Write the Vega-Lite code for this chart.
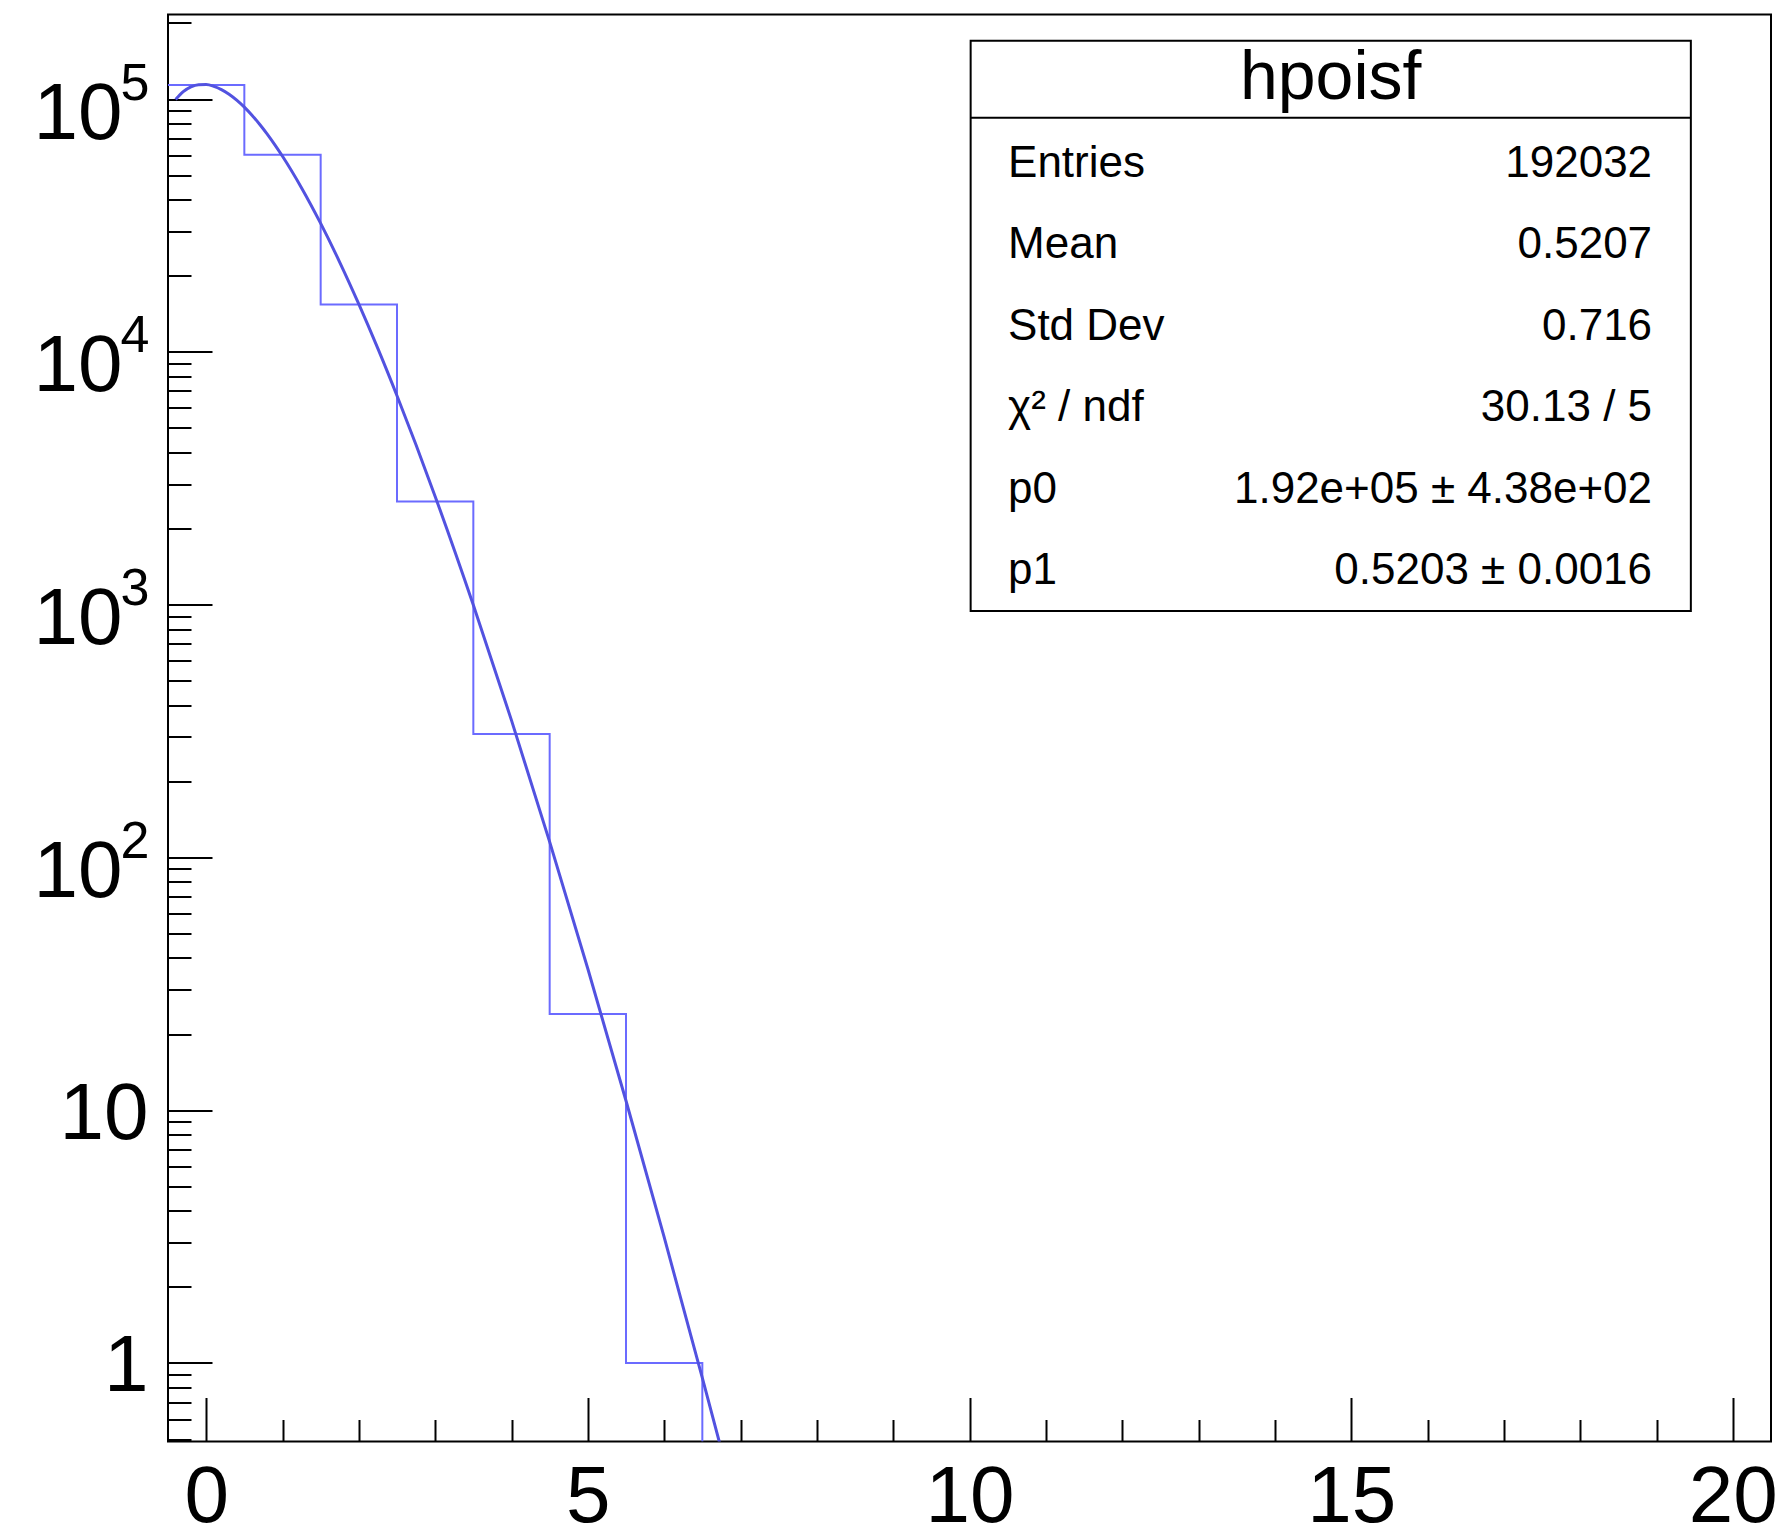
{
  "$schema": "https://vega.github.io/schema/vega-lite/v6.json",
  "width": 1603,
  "height": 1427,
  "autosize": "none",
  "padding": {"left": 168, "top": 14.5, "right": 13, "bottom": 91.5},
  "background": "white",
  "config": {
    "font": "Liberation Sans",
    "view": {"stroke": "black", "strokeWidth": 2},
    "axis": {"grid": false, "domain": false, "title": null, "tickColor": "black", "tickWidth": 2, "labelColor": "black", "labelFont": "Liberation Sans", "labelFlush": false, "labelOverlap": false}
  },
  "resolve": {"scale": {"y": "independent"}, "axis": {"x": "independent", "y": "independent"}},
  "layer": [
    {
      "data": {"values": [
        {"edge": -0.5, "count": 113589},
        {"edge": 0.5, "count": 60150},
        {"edge": 1.5, "count": 15400},
        {"edge": 2.5, "count": 2560},
        {"edge": 3.5, "count": 308},
        {"edge": 4.5, "count": 24},
        {"edge": 5.5, "count": 1},
        {"edge": 6.5, "count": 0}
      ]},
      "mark": {"type": "line", "interpolate": "step-after", "color": "#6b6bff", "strokeWidth": 2, "clip": true},
      "encoding": {
        "x": {"field": "edge", "type": "quantitative",
          "scale": {"domain": [-0.5, 20.5], "nice": false, "zero": false},
          "axis": {"orient": "bottom", "values": [0, 1, 2, 3, 4, 5, 6, 7, 8, 9, 10, 11, 12, 13, 14, 15, 16, 17, 18, 19, 20],
            "tickSize": {"condition": {"test": "datum.value % 5 == 0", "value": -44}, "value": -22},
            "labelExpr": "datum.value % 5 == 0 ? format(datum.value, 'd') : ''",
            "labelFontSize": 80, "labelPadding": 61}},
        "y": {"field": "count", "type": "quantitative",
          "scale": {"type": "log", "domain": [0.489, 216000], "nice": false, "clamp": true},
          "axis": {"orient": "left",
            "values": [0.5, 0.6, 0.7, 0.8, 0.9, 1, 2, 3, 4, 5, 6, 7, 8, 9, 10, 20, 30, 40, 50, 60, 70, 80, 90, 100, 200, 300, 400, 500, 600, 700, 800, 900, 1000, 2000, 3000, 4000, 5000, 6000, 7000, 8000, 9000, 10000, 20000, 30000, 40000, 50000, 60000, 70000, 80000, 90000, 100000, 200000],
            "tickSize": {"condition": {"test": "indexof([1, 10, 100, 1000, 10000, 100000], datum.value) >= 0", "value": -44}, "value": -23},
            "labelExpr": "datum.value == 1 ? '1' : indexof([10, 100, 1000, 10000, 100000], datum.value) >= 0 ? '10' : ''",
            "labelFontSize": 80, "labelAlign": "right", "labelBaseline": "alphabetic",
            "labelPadding": {"condition": {"test": "datum.value >= 100", "value": 90}, "value": 64},
            "labelOffset": {"condition": {"test": "datum.value >= 100", "value": 39}, "value": 28}}}
      }
    },
    {
      "data": {"values": [
        {"x": -0.4, "f": 99500}, {"x": -0.3, "f": 106900}, {"x": -0.2, "f": 111700}, {"x": -0.1, "f": 114000},
        {"x": 0, "f": 114100}, {"x": 0.1, "f": 112300}, {"x": 0.2, "f": 109000}, {"x": 0.3, "f": 104500},
        {"x": 0.4, "f": 99000}, {"x": 0.5, "f": 92870}, {"x": 0.6, "f": 86280}, {"x": 0.7, "f": 79480},
        {"x": 0.8, "f": 72640}, {"x": 0.9, "f": 65890}, {"x": 1.0, "f": 59370}, {"x": 1.25, "f": 44500},
        {"x": 1.5, "f": 32210}, {"x": 1.75, "f": 22610}, {"x": 2.0, "f": 15440}, {"x": 2.25, "f": 10290},
        {"x": 2.5, "f": 6703}, {"x": 2.75, "f": 4279}, {"x": 3.0, "f": 2679}, {"x": 3.5, "f": 996.6},
        {"x": 4.0, "f": 348.4}, {"x": 4.5, "f": 115.2}, {"x": 5.0, "f": 36.25}, {"x": 5.5, "f": 10.9},
        {"x": 6.0, "f": 3.144}, {"x": 6.5, "f": 0.8726}, {"x": 6.75, "f": 0.4535}
      ]},
      "mark": {"type": "line", "interpolate": "monotone", "color": "#5252e0", "strokeWidth": 3, "clip": true},
      "encoding": {
        "x": {"field": "x", "type": "quantitative",
          "scale": {"domain": [-0.5, 20.5], "nice": false, "zero": false},
          "axis": null},
        "y": {"field": "f", "type": "quantitative",
          "scale": {"type": "log", "domain": [0.489, 216000], "nice": false},
          "axis": {"orient": "left", "values": [100, 1000, 10000, 100000], "ticks": false,
            "labelExpr": "format(round(log(datum.value) / LN10), 'd')",
            "labelFontSize": 52, "labelAlign": "left", "labelBaseline": "alphabetic", "labelPadding": 48, "labelOffset": 0}}
      }
    },
    {
      "data": {"values": [
        {"row": 1, "label": "Entries", "value": "192032"},
        {"row": 2, "label": "Mean", "value": "0.5207"},
        {"row": 3, "label": "Std Dev", "value": "0.716"},
        {"row": 4, "label": "χ² / ndf", "value": "30.13 / 5"},
        {"row": 5, "label": "p0", "value": "1.92e+05 ± 4.38e+02"},
        {"row": 6, "label": "p1", "value": "0.5203 ± 0.0016"}
      ]},
      "layer": [
        {
          "data": {"values": [{"name": "hpoisf"}]},
          "mark": {"type": "rect", "fill": "white", "stroke": "black", "strokeWidth": 2},
          "encoding": {
            "x": {"datum": 10.015, "type": "quantitative", "scale": {"domain": [-0.5, 20.5], "nice": false, "zero": false}, "axis": null},
            "x2": {"datum": 19.45},
            "y": {"datum": -0.669, "type": "quantitative", "scale": {"domain": [-0.99, 16.52], "reverse": true, "nice": false, "zero": false}, "axis": null},
            "y2": {"datum": 6.329}
          }
        },
        {
          "data": {"values": [{"name": "hpoisf"}]},
          "mark": {"type": "rule", "color": "black", "strokeWidth": 2},
          "encoding": {
            "x": {"datum": 10.015, "type": "quantitative", "axis": null},
            "x2": {"datum": 19.45},
            "y": {"datum": 0.276, "type": "quantitative", "axis": null}
          }
        },
        {
          "data": {"values": [{"name": "hpoisf"}]},
          "mark": {"type": "text", "fontSize": 68, "align": "center", "baseline": "alphabetic", "color": "black"},
          "encoding": {
            "text": {"field": "name"},
            "x": {"datum": 14.732, "type": "quantitative", "axis": null},
            "y": {"datum": 0.047, "type": "quantitative", "axis": null}
          }
        },
        {
          "mark": {"type": "text", "fontSize": 44, "align": "left", "baseline": "alphabetic", "color": "black"},
          "encoding": {
            "text": {"field": "label"},
            "x": {"datum": 10.505, "type": "quantitative", "axis": null},
            "y": {"field": "row", "type": "quantitative", "axis": null}
          }
        },
        {
          "mark": {"type": "text", "fontSize": 44, "align": "right", "baseline": "alphabetic", "color": "black"},
          "encoding": {
            "text": {"field": "value"},
            "x": {"datum": 18.942, "type": "quantitative", "axis": null},
            "y": {"field": "row", "type": "quantitative", "axis": null}
          }
        }
      ]
    }
  ]
}
